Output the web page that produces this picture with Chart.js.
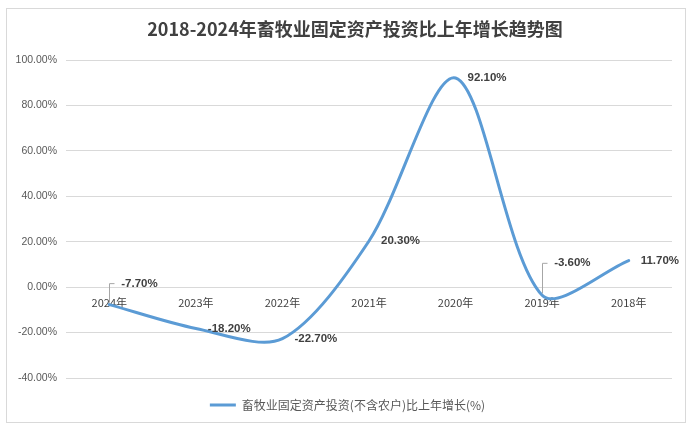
<!DOCTYPE html>
<html>
<head>
<meta charset="utf-8">
<script src="https://cdn.jsdelivr.net/npm/chart.js@4/dist/chart.umd.min.js"></script>
<style>
  html, body { margin: 0; padding: 0; background: #fff; }
  #wrap { width: 694px; height: 431px; position: relative; }
</style>
</head>
<body>
<div id="wrap"><canvas id="c" width="694" height="431"></canvas></div>
<script>
// ---- data ----
const categories = ['2024年', '2023年', '2022年', '2021年', '2020年', '2019年', '2018年'];
const growth = [-7.70, -18.20, -22.70, 20.30, 92.10, -3.60, 11.70];
const seriesName = '畜牧业固定资产投资(不含农户)比上年增长(%)';
const chartTitle = '2018-2024年畜牧业固定资产投资比上年增长趋势图';
const yTicks = { min: -40, max: 100, step: 20 };

const CJK = '"Noto Sans CJK SC", "Liberation Sans", sans-serif';
const NUM = '"Liberation Sans", "Noto Sans CJK SC", sans-serif';

const framePlugin = {
  id: 'frame',
  afterLayout(chart) {
    // centre the legend under the whole frame, as in the original
    const lg = chart.legend;
    if (lg) { lg.left += 8.5; lg.right += 8.5; }
  },
  beforeDraw(chart) {
    const ctx = chart.ctx;
    ctx.save();
    ctx.fillStyle = '#ffffff';
    ctx.fillRect(0, 0, chart.width, chart.height);
    ctx.strokeStyle = '#d9d9d9';
    ctx.lineWidth = 1;
    ctx.strokeRect(6.5, 8.5, 679, 414);
    ctx.restore();
  },
  afterDraw(chart) {
    const ctx = chart.ctx;
    ctx.save();
    ctx.fillStyle = '#404040';
    ctx.font = 'bold 18px ' + CJK;
    ctx.textAlign = 'center';
    ctx.textBaseline = 'middle';
    ctx.fillText(chartTitle, 355, 29);
    ctx.restore();
  }
};

// label placement: default right of point; some lifted with a leader line
const labelPlugin = {
  id: 'valueLabels',
  afterDatasetsDraw(chart, args, opts) {
    const ctx = chart.ctx;
    const meta = chart.getDatasetMeta(0);
    ctx.save();
    ctx.font = 'bold 11.5px ' + NUM;
    ctx.fillStyle = '#404040';
    ctx.textAlign = 'left';
    ctx.textBaseline = 'middle';
    meta.data.forEach((pt, i) => {
      const v = chart.data.datasets[0].data[i];
      const lift = opts.lift[i] || 0;
      const tx = pt.x + 12;
      const ty = pt.y + lift;
      if (lift) {
        ctx.save();
        ctx.strokeStyle = '#a6a6a6';
        ctx.lineWidth = 1;
        ctx.beginPath();
        const lx = Math.round(pt.x) + 0.5;
        ctx.moveTo(lx, pt.y - 2);
        ctx.lineTo(lx, ty);
        ctx.lineTo(lx + 5, ty);
        ctx.stroke();
        ctx.restore();
      }
      ctx.fillText(v.toFixed(2) + '%', tx, ty);
    });
    ctx.restore();
  }
};

new Chart(document.getElementById('c'), {
  type: 'line',
  data: {
    labels: categories,
    datasets: [{
      label: seriesName,
      data: growth,
      borderColor: '#5B9BD5',
      backgroundColor: '#5B9BD5',
      borderWidth: 3,
      pointRadius: 0,
      pointHoverRadius: 0,
      tension: 0.3,
      fill: false,
      borderCapStyle: 'round'
    }]
  },
  options: {
    responsive: false,
    animation: false,
    devicePixelRatio: 1,
    layout: { padding: { left: 6, right: 22, top: 60, bottom: 10 } },
    scales: {
      x: {
        position: { y: 0 },
        offset: true,
        afterFit(scale) { scale.height = 0; },
        grid: { display: false, drawTicks: false },
        border: { display: false },
        ticks: { color: '#404040', font: { size: 11, family: CJK }, padding: 9, maxRotation: 0, autoSkip: false }
      },
      y: {
        min: yTicks.min,
        max: yTicks.max,
        afterFit(scale) { scale.width = 60; },
        ticks: {
          stepSize: yTicks.step,
          color: '#595959',
          font: { size: 10.5, family: NUM },
          padding: 9,
          callback: (v) => Number(v).toFixed(2) + '%'
        },
        grid: { color: '#d9d9d9', drawTicks: false },
        border: { display: false }
      }
    },
    plugins: {
      title: { display: false },
      tooltip: { enabled: false },
      legend: {
        display: true,
        position: 'bottom',
        labels: {
          usePointStyle: true,
          pointStyle: 'line',
          pointStyleWidth: 26,
          color: '#595959',
          font: { size: 12, family: CJK },
          padding: 21
        }
      },
      valueLabels: { lift: { 0: -21, 5: -32 } }
    }
  },
  plugins: [framePlugin, labelPlugin]
});
</script>
</body>
</html>
